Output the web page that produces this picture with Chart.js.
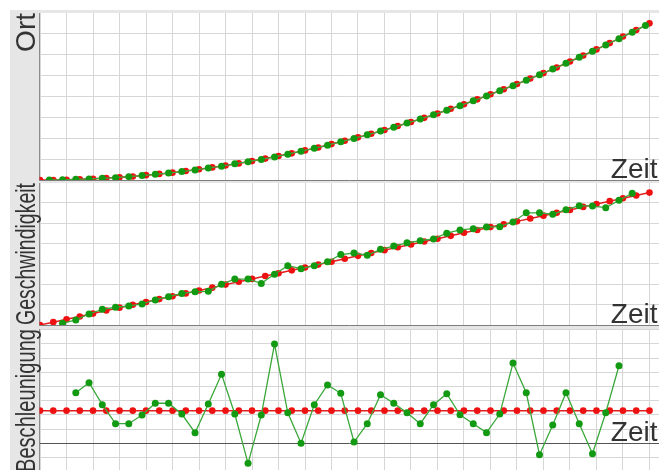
<!DOCTYPE html>
<html>
<head>
<meta charset="utf-8">
<script src="https://cdn.jsdelivr.net/npm/chart.js@4/dist/chart.umd.min.js"></script>
<style>
  html, body { margin: 0; padding: 0; background: #fff; overflow: hidden; width: 659px; height: 470px; }
  #stage { position: absolute; left: 0; top: 0; width: 659px; height: 470px; overflow: hidden; }
  .band { position: absolute; background: #e6e6e6; }
  canvas { position: absolute; left: 0; }
</style>
</head>
<body>
<div id="stage">
  <div class="band" style="left:10px;top:10px;width:649px;height:3px"></div>
  <div class="band" style="left:10px;top:10px;width:29px;height:460px"></div>
  <div class="band" style="left:39px;top:181px;width:620px;height:2px"></div>
  <div class="band" style="left:39px;top:326px;width:620px;height:3px"></div>
  <canvas id="cOrt" width="659" height="182" style="top:0px"></canvas>
  <canvas id="cVel" width="659" height="146" style="top:181px"></canvas>
  <canvas id="cAcc" width="659" height="150" style="top:326px"></canvas>
</div>
<script>
// Frame numbers of the model curve and of the measured (tracked) samples
const tModel = [0,1,2,3,4,5,6,7,8,9,10,11,12,13,14,15,16,17,18,19,20,21,22,23,24,25,26,27,28,29,30,31,32,33,34,35,36,37,38,39,40,41,42,43,44,45,46];
const tMeasured = [0.7,1.7,2.7,3.7,4.7,5.7,6.7,7.7,8.7,9.7,10.7,11.7,12.7,13.7,14.7,15.7,16.7,17.7,18.7,19.7,20.7,21.7,22.7,23.7,24.7,25.7,26.7,27.7,28.7,29.7,30.7,31.7,32.7,33.7,34.7,35.7,36.7,37.7,38.7,39.7,40.7,41.7,42.7,43.7,44.7,45.7];

// Position (Ort)
const ortModel = [0,0.00,0.01,0.03,0.06,0.09,0.13,0.17,0.23,0.29,0.35,0.43,0.51,0.60,0.69,0.79,0.90,1.02,1.14,1.27,1.41,1.55,1.71,1.87,2.03,2.20,2.38,2.57,2.76,2.96,3.17,3.39,3.61,3.84,4.08,4.32,4.57,4.83,5.09,5.36,5.64,5.93,6.22,6.52,6.83,7.14,7.46];
const ortMeasured = [0.00,0.01,0.03,0.05,0.08,0.11,0.16,0.21,0.27,0.33,0.40,0.48,0.57,0.66,0.77,0.87,0.98,1.10,1.23,1.37,1.51,1.66,1.82,1.98,2.15,2.33,2.51,2.71,2.90,3.11,3.32,3.54,3.77,4.00,4.25,4.49,4.75,5.01,5.28,5.56,5.84,6.13,6.43,6.73,7.04,7.36];

// Velocity (Geschwindigkeit) - measured samples start at the 2nd tracked frame
const vModel = [0,0.14,0.28,0.42,0.56,0.71,0.85,0.99,1.13,1.27,1.41,1.55,1.69,1.83,1.98,2.12,2.26,2.40,2.54,2.68,2.82,2.96,3.10,3.25,3.39,3.53,3.67,3.81,3.95,4.09,4.23,4.37,4.52,4.66,4.80,4.94,5.08,5.22,5.36,5.50,5.64,5.79,5.93,6.07,6.21,6.35,6.49];
const vMeasured = [0.08,0.25,0.54,0.77,0.87,0.93,1.03,1.23,1.39,1.55,1.63,1.65,2.00,2.25,2.25,2.04,2.49,2.91,2.76,2.91,3.10,3.45,3.53,3.42,3.71,3.87,4.03,4.13,4.22,4.50,4.66,4.72,4.80,4.82,5.05,5.50,5.50,5.43,5.65,5.85,5.83,5.75,6.11,6.46];

// Acceleration (Beschleunigung) - measured samples start at the 3rd tracked frame
const aModel = [2.3,2.3,2.3,2.3,2.3,2.3,2.3,2.3,2.3,2.3,2.3,2.3,2.3,2.3,2.3,2.3,2.3,2.3,2.3,2.3,2.3,2.3,2.3,2.3,2.3,2.3,2.3,2.3,2.3,2.3,2.3,2.3,2.3,2.3,2.3,2.3,2.3,2.3,2.3,2.3,2.3,2.3,2.3,2.3,2.3,2.3,2.3];
const aMeasured = [3.56,4.27,2.72,1.38,1.38,1.99,2.82,2.82,2.06,0.75,2.77,4.86,2.06,-1.41,1.99,6.99,2.15,0.00,2.72,4.11,3.52,0.09,1.38,3.42,2.82,2.15,1.38,2.72,3.49,2.01,1.38,0.75,2.06,5.65,3.56,-0.80,1.29,3.56,1.38,-0.73,2.15,5.46];

// Grid positions
const timeGrid = [0,2,4,6,8,10,12,14,16,18,20,22,24,26,28,30,32,34,36,38,40,42,44,46];
const ortGrid = [0,1,2,3,4,5,6,7];
const vGrid = [0,1,2,3,4,5,6];
const aGrid = [-2,-1,0,1,2,3,4,5,6,7,8];

const TITLE_ORT = 'Ort';
const TITLE_V = 'Geschwindigkeit';
const TITLE_A = 'Beschleunigung';
const TITLE_T = 'Zeit';

const FONT = '28px "Liberation Sans", Arial, Helvetica, sans-serif';
const TEXT_COLOR = '#333333';
const GRID_COLOR = '#d6d6d6';
const RED = '#ee1111';
const GREEN = '#139a13';

function pairs(xs, ys, offset) {
  return ys.map((y, i) => ({ x: xs[i + offset], y: y }));
}

// Rotated axis name in the grey strip plus the time label at the right end of the x axis
const panelText = {
  id: 'panelText',
  afterDatasetsDraw(chart, args, opts) {
    const ctx = chart.ctx;
    const area = chart.chartArea;
    ctx.save();
    ctx.font = FONT;
    ctx.fillStyle = TEXT_COLOR;
    ctx.textBaseline = 'alphabetic';
    ctx.textAlign = 'right';
    const y0 = chart.scales.y.getPixelForValue(0);
    ctx.fillText(TITLE_T, 657.5, y0 - 2);
    ctx.translate(34.5, area.top);
    ctx.rotate(-Math.PI / 2);
    if (opts.fit) ctx.fillText(opts.title, 0, 0, opts.fit);
    else ctx.fillText(opts.title, 0, 0);
    ctx.restore();
  }
};

function makePanel(id, model, measured, offset, yMin, yMax, yGrid, title, fit, padding, zeroLine) {
  return new Chart(document.getElementById(id), {
    type: 'line',
    data: {
      datasets: [
        {
          label: 'Messung',
          data: pairs(tMeasured, measured, offset),
          borderColor: '#3aa83a',
          borderWidth: 1.3,
          pointBackgroundColor: GREEN,
          pointBorderColor: GREEN,
          pointBorderWidth: 0,
          pointRadius: 3.5,
          clip: 0
        },
        {
          label: 'Modell',
          data: pairs(tModel, model, 0),
          borderColor: '#e02020',
          borderWidth: 1.5,
          pointBackgroundColor: RED,
          pointBorderColor: RED,
          pointBorderWidth: 0,
          pointRadius: 3.3,
          clip: 0
        }
      ]
    },
    options: {
      responsive: false,
      animation: false,
      events: [],
      layout: { padding: padding, autoPadding: false },
      plugins: {
        legend: { display: false },
        tooltip: { enabled: false },
        panelText: { title: title, fit: fit }
      },
      scales: {
        x: {
          type: 'linear',
          min: -0.04,
          max: 46.72,
          afterBuildTicks: s => { s.ticks = timeGrid.map(v => ({ value: v })); },
          ticks: { display: false },
          grid: { color: GRID_COLOR, lineWidth: 1, drawTicks: false },
          border: { display: true, color: '#7d7d7d', width: 1 }
        },
        y: {
          type: 'linear',
          min: yMin,
          max: yMax,
          afterBuildTicks: s => { s.ticks = yGrid.map(v => ({ value: v })); },
          ticks: { display: false },
          grid: {
            color: c => (zeroLine && c.tick && c.tick.value === 0) ? '#555555' : GRID_COLOR,
            lineWidth: 1,
            drawTicks: false
          },
          border: { display: true, color: '#8c8c8c', width: 1 }
        }
      }
    },
    plugins: [panelText]
  });
}

// Ort: plot area 13..180 px, 21 px per unit
makePanel('cOrt', ortModel, ortMeasured, 0, 0, 167 / 21, ortGrid, TITLE_ORT, 0,
  { left: 39.5, right: 0, top: 13, bottom: 2 }, false);
// Geschwindigkeit: plot area 183..325 px, 20.4 px per unit
makePanel('cVel', vModel, vMeasured, 1, 0, 142 / 20.4, vGrid, TITLE_V, 142,
  { left: 39.5, right: 0, top: 2, bottom: 2 }, false);
// Beschleunigung: plot area 329..476 px, zero at 443.3 px, 14.2 px per unit
makePanel('cAcc', aModel, aMeasured, 2, -32.7 / 14.2, 114.3 / 14.2, aGrid, TITLE_A, 143,
  { left: 39.5, right: 0, top: 3, bottom: 0 }, true);
</script>
</body>
</html>
